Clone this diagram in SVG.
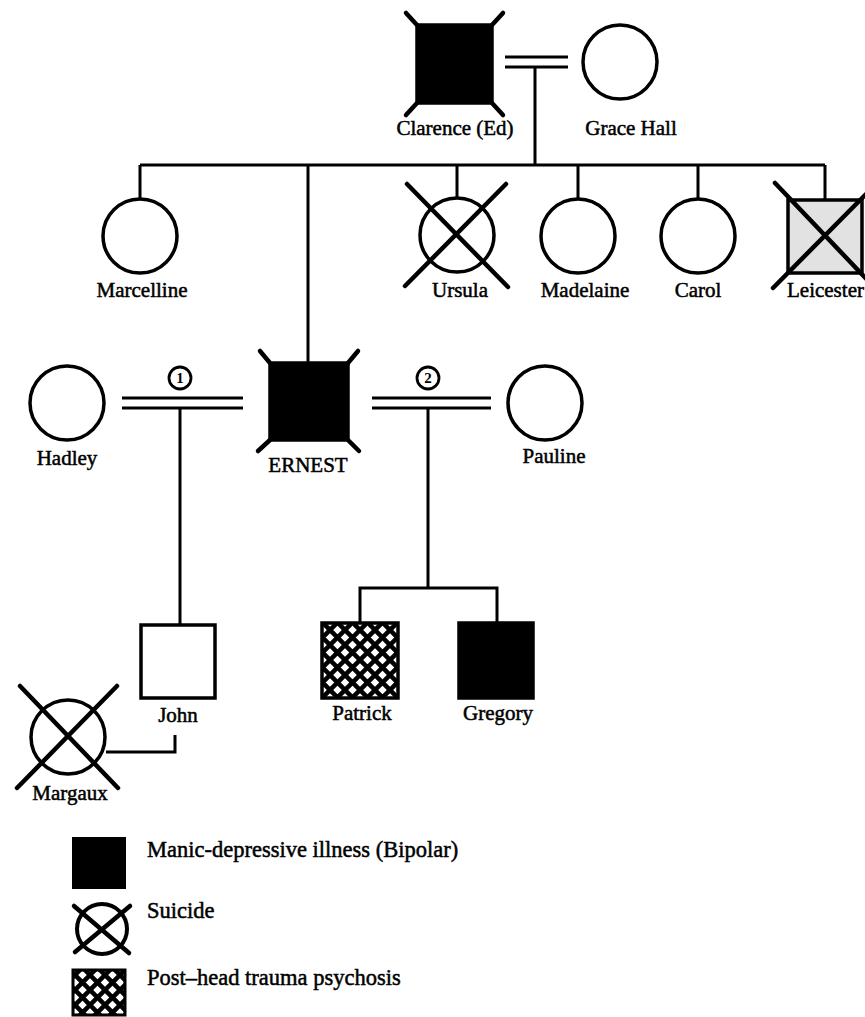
<svg xmlns="http://www.w3.org/2000/svg" width="865" height="1017" viewBox="0 0 865 1017">
<defs>
<style>
.ln{fill:none;stroke:#000;stroke-width:3;stroke-linecap:butt}
.sh{stroke:#000;stroke-width:3.5}
.x{stroke:#000;stroke-width:4.5;stroke-linecap:round;fill:none}
.mk{stroke:#000;stroke-width:4.5;stroke-linecap:round}
.lbl{font-family:"Liberation Serif","Times New Roman",serif;font-size:21px;fill:#000;stroke:#000;stroke-width:0.5;text-anchor:middle}
.lg{font-family:"Liberation Serif","Times New Roman",serif;font-size:22.5px;fill:#000;stroke:#000;stroke-width:0.5}
.num{font-family:"Liberation Serif","Times New Roman",serif;font-size:15px;font-weight:bold;fill:#000;text-anchor:middle}
</style>
<pattern id="hatch" width="15" height="15" patternUnits="userSpaceOnUse">
<rect width="15" height="15" fill="#fff"/>
<path d="M0,0 L15,15 M15,0 L0,15" stroke="#000" stroke-width="4.5"/>
</pattern>
</defs>
<rect width="865" height="1017" fill="#fff"/>

<g id="connectors">
<path class="ln" d="M505,57 H568 M505,67 H568"/>
<path class="ln" d="M535,67 V165"/>
<path class="ln" d="M140,165 H825 M140,165 V199 M308,165 V363 M457,165 V197 M578,165 V198 M698,165 V198 M825,165 V200"/>
<path class="ln" d="M122,398 H243 M122,408 H243"/>
<path class="ln" d="M180,408 V625"/>
<path class="ln" d="M372,398 H491 M372,408 H491"/>
<path class="ln" d="M428,408 V588 M360,588 H497 M360,586.5 V623 M497,586.5 V623"/>
<path class="ln" d="M106,752 H175 V735"/>
</g>

<g id="marriage-numbers">
<circle cx="180" cy="378" r="11" fill="#fff" stroke="#000" stroke-width="2.8"/>
<text class="num" x="180" y="383">1</text>
<circle cx="428" cy="378" r="11" fill="#fff" stroke="#000" stroke-width="2.8"/>
<text class="num" x="428" y="383">2</text>
</g>

<g id="clarence">
<rect class="sh" x="417" y="25" width="75" height="78" fill="#000"/>
<path class="mk" d="M406,13 L417,25 M503,13 L492,25 M406,115 L417,103 M503,115 L492,103"/>
<text class="lbl" x="455" y="135">Clarence (Ed)</text>
</g>

<g id="grace">
<circle class="sh" cx="620" cy="62" r="37" fill="#fff"/>
<text class="lbl" x="631" y="135">Grace Hall</text>
</g>

<g id="marcelline">
<circle class="sh" cx="140" cy="236" r="37" fill="#fff"/>
<text class="lbl" x="142" y="297">Marcelline</text>
</g>

<g id="ursula">
<circle class="sh" cx="457" cy="235" r="37" fill="#fff"/>
<path class="x" d="M407,184 L508,287 M506,184 L405,286"/>
<text class="lbl" x="460" y="297">Ursula</text>
</g>

<g id="madelaine">
<circle class="sh" cx="578" cy="236" r="37" fill="#fff"/>
<text class="lbl" x="585" y="297">Madelaine</text>
</g>

<g id="carol">
<circle class="sh" cx="698" cy="236" r="37" fill="#fff"/>
<text class="lbl" x="698" y="297">Carol</text>
</g>

<g id="leicester">
<rect class="sh" x="788" y="200" width="74" height="73" fill="#e2e2e2"/>
<path class="x" d="M775,183 L877,290 M877,183 L773,288"/>
<text class="lbl" x="787" y="297" style="text-anchor:start">Leicester</text>
</g>

<g id="hadley">
<circle class="sh" cx="67" cy="403" r="37" fill="#fff"/>
<text class="lbl" x="67" y="465">Hadley</text>
</g>

<g id="ernest">
<rect class="sh" x="270" y="363" width="78" height="77" fill="#000"/>
<path class="mk" d="M260,351 L270,363 M358,351 L348,363 M258,451 L270,440 M359,451 L348,440"/>
<text class="lbl" x="308" y="472">ERNEST</text>
</g>

<g id="pauline">
<circle class="sh" cx="545" cy="403" r="37" fill="#fff"/>
<text class="lbl" x="554" y="463">Pauline</text>
</g>

<g id="john">
<rect class="sh" x="141" y="625" width="74" height="73" fill="#fff"/>
<text class="lbl" x="178" y="722">John</text>
</g>

<g id="margaux">
<circle class="sh" cx="68" cy="737" r="37" fill="#fff"/>
<path class="x" d="M20,686 L118,788 M117,686 L17,788"/>
<text class="lbl" x="70" y="800">Margaux</text>
</g>

<g id="patrick">
<rect class="sh" x="322" y="623" width="76" height="75" fill="url(#hatch)"/>
<text class="lbl" x="362" y="720">Patrick</text>
</g>

<g id="gregory">
<rect class="sh" x="459" y="623" width="74" height="75" fill="#000"/>
<text class="lbl" x="498" y="720">Gregory</text>
</g>

<g id="legend">
<rect x="73" y="838" width="52" height="50" fill="#000" stroke="#000" stroke-width="2"/>
<text class="lg" x="147" y="857">Manic-depressive illness (Bipolar)</text>
<circle cx="102" cy="929" r="25" fill="#fff" stroke="#000" stroke-width="4"/>
<path class="x" d="M74,906 L129,953 M130,906 L75,952"/>
<text class="lg" x="147" y="918">Suicide</text>
<rect x="73" y="970" width="52" height="45" fill="url(#hatch)" stroke="#000" stroke-width="3"/>
<text class="lg" x="147" y="985">Post–head trauma psychosis</text>
</g>
</svg>
